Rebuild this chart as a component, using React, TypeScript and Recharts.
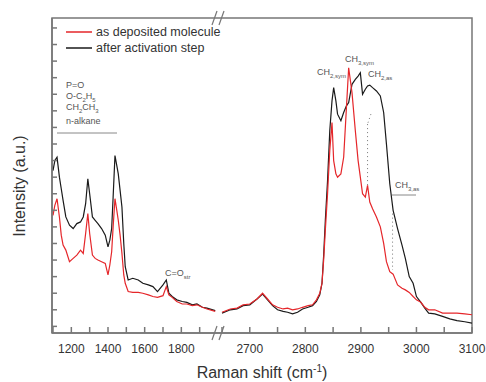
import React from "react";
import {
  ComposedChart,
  Line,
  XAxis,
  YAxis,
  ReferenceArea,
  ReferenceLine,
  Legend,
} from "recharts";

// Raman shift (cm-1) sampled on the low-wavenumber part of the broken axis
const LEFT_SHIFT = [
  1100, 1110, 1122, 1135, 1145, 1155, 1170, 1190, 1210, 1230, 1250, 1265, 1278,
  1290, 1300, 1315, 1330, 1345, 1365, 1385, 1400, 1410, 1420, 1428, 1438, 1448,
  1456, 1466, 1476, 1486, 1494, 1510, 1535, 1565, 1590, 1620, 1645, 1670, 1700,
  1718, 1732, 1750, 1775, 1805, 1830, 1860, 1885, 1915, 1940, 1985,
];
const RED_LEFT = [
  6.7, 7.3, 7.7, 6.6, 5.5, 4.9, 4.6, 3.9, 4.1, 4.3, 4.6, 4.4, 5.6, 6.8, 5.6,
  4.3, 4.1, 4.0, 3.9, 3.8, 3.1, 3.7, 4.5, 6.0, 7.7, 7.0, 6.4, 5.5, 4.4, 3.1,
  2.6, 2.1, 2.05, 2.05, 2.0, 1.9, 1.8, 1.75, 1.85, 2.4, 1.9, 1.75, 1.5, 1.35,
  1.35, 1.25, 1.3, 1.15, 1.05, 0.9,
];
const BLACK_LEFT = [
  9.4, 10.0, 10.2, 9.0, 8.3, 7.6, 6.6, 6.1, 5.9, 6.2, 6.3, 6.6, 7.4, 8.9, 8.0,
  6.6, 6.4, 6.2, 5.9, 5.5, 4.8, 5.2, 5.9, 7.8, 10.3, 9.7, 9.2, 8.2, 7.2, 5.0,
  3.6, 2.8, 2.9, 2.8, 2.6, 2.5, 2.4, 2.1, 2.5, 2.8, 2.0, 1.8, 1.6, 1.5, 1.45,
  1.3, 1.35, 1.15, 1.1, 0.95,
];

// high-wavenumber part (C-H stretching region)
const RIGHT_SHIFT = [
  2650, 2665, 2677, 2688, 2700, 2713, 2723, 2732, 2741, 2750, 2760, 2768, 2777,
  2786, 2795, 2805, 2813, 2820, 2826, 2830, 2833, 2836, 2840, 2844, 2848, 2851,
  2855, 2858, 2864, 2869, 2874, 2878, 2884, 2890, 2895, 2899, 2903, 2908, 2912,
  2916, 2921, 2928, 2935, 2941, 2946, 2952, 2958, 2966, 2974, 2980, 2987, 2994,
  3000, 3008, 3015, 3022, 3033, 3047, 3060, 3073, 3087, 3100,
];
const RED_RIGHT = [
  0.85, 1.05, 1.1, 1.3, 1.35, 1.65, 2.0, 1.65, 1.3, 1.15, 1.05, 1.1, 1.0, 1.05,
  1.15, 1.25, 1.3, 1.6, 2.0, 2.6, 4.0, 5.8, 8.0, 10.6, 12.3, 10.0, 9.2, 9.0,
  9.2, 10.2, 13.2, 15.6, 14.1, 11.8, 10.0, 9.0, 8.0, 7.8, 8.5, 7.5, 7.1, 6.6,
  6.0, 5.0, 3.9, 3.3, 3.15, 2.5, 2.3, 2.2, 2.05, 1.8, 1.6, 1.45, 1.15, 1.0, 1.0,
  0.8, 0.8, 0.8, 0.75, 0.7,
];
const BLACK_RIGHT = [
  0.8, 1.0, 1.05, 1.25, 1.3, 1.65, 1.95, 1.6, 1.25, 1.0, 0.9, 0.85, 0.75, 0.85,
  1.05, 1.15, 1.25, 1.5, 1.9, 2.6, 4.3, 6.4, 8.8, 11.8, 13.6, 14.4, 13.6, 12.8,
  12.4, 12.9, 13.3, 13.5, 14.6, 14.9, 15.1, 15.3, 14.0, 14.3, 14.5, 14.55, 14.4,
  14.2, 13.9, 12.9, 11.0, 8.6, 7.0, 5.9, 4.9, 4.1, 3.0, 2.6, 1.8, 1.45, 1.1,
  0.8, 0.75, 0.6, 0.45, 0.35, 0.28, 0.2,
];

const X_TICKS = [
  1100, 1200, 1300, 1400, 1500, 1600, 1700, 1800, 1900,
  2650, 2700, 2750, 2800, 2850, 2900, 2950, 3000, 3050, 3100,
];
const X_LABELS = [1200, 1400, 1600, 1800, 2700, 2800, 2900, 3000, 3100];
const Y_TICKS = [0, 1, 2, 3, 4, 5, 6, 7, 8, 9, 10, 11, 12, 13, 14, 15, 16, 17, 18];

const SERIES = [
  { name: "as deposited molecule", color: "#e5262a" },
  { name: "after activation step", color: "#1a1a1a" },
];

const AXIS = "#777";
const FONT = "'Liberation Sans', Arial, sans-serif";

// broken axis: 1100-2000 and 2650-3100 share one numeric axis
const toPos = (cm) =>
  cm <= 2000 ? 1 + ((cm - 1100) * 165) / 900 : 170 + ((cm - 2650) * 250) / 450;
const fromPos = (p) =>
  p <= 168 ? 1100 + ((p - 1) * 900) / 165 : 2650 + ((p - 170) * 450) / 250;

const build = (left, right) => [
  ...LEFT_SHIFT.map((cm, i) => ({ pos: toPos(cm), v: left[i] })),
  { pos: 167, v: null },
  ...RIGHT_SHIFT.map((cm, i) => ({ pos: toPos(cm), v: right[i] })),
];

const redData = build(RED_LEFT, RED_RIGHT);
const blackData = build(BLACK_LEFT, BLACK_RIGHT);

const XTick = ({ x, y, payload }) => {
  const cm = Math.round(fromPos(payload.value));
  return (
    <g>
      <line x1={x} x2={x} y1={y} y2={y - 6} stroke={AXIS} strokeWidth={1.5} />
      {X_LABELS.includes(cm) && (
        <text x={x} y={y + 20} textAnchor="middle" fontSize={12} fill="#333">
          {cm}
        </text>
      )}
    </g>
  );
};

const YTick = ({ x, y }) => (
  <line x1={x} x2={x + 5} y1={y} y2={y} stroke={AXIS} strokeWidth={1.5} />
);

const LegendBox = () => (
  <div style={{ fontFamily: FONT, fontSize: 12.5, color: "#333" }}>
    {SERIES.map((s) => (
      <div key={s.name} style={{ display: "flex", alignItems: "center", height: 16 }}>
        <svg width={30} height={16}>
          <line x1={0} x2={26} y1={8} y2={8} stroke={s.color} strokeWidth={1.5} />
        </svg>
        <span>{s.name}</span>
      </div>
    ))}
  </div>
);

const Sub = ({ x, y, main, sub }) => (
  <text x={x} y={y} fontSize={9} fill="#555">
    {main}
    <tspan dy={3} fontSize={6}>
      {sub}
    </tspan>
  </text>
);

const BreakMark = ({ y }) => (
  <g stroke={AXIS} strokeWidth={1.2}>
    <rect x={214} y={y - 2} width={10} height={4} fill="#fff" stroke="none" />
    <line x1={212} y1={y + 7} x2={217} y2={y - 7} />
    <line x1={219} y1={y + 7} x2={224} y2={y - 7} />
  </g>
);

export default function App() {
  return (
    <div style={{ position: "absolute", left: 0, top: 0 }}>
      <ComposedChart
        width={486}
        height={382}
        margin={{ top: 18, right: 14, bottom: 48, left: 51 }}
        style={{ fontFamily: FONT }}
      >
        <XAxis
          dataKey="pos"
          type="number"
          domain={[0, 420]}
          ticks={X_TICKS.map(toPos)}
          interval={0}
          tick={(p) => <XTick {...p} />}
          tickLine={false}
          tickSize={0}
          tickMargin={0}
          height={1}
          axisLine={{ stroke: AXIS, strokeWidth: 1.5 }}
          allowDataOverflow
        />
        <YAxis
          type="number"
          domain={[-0.4, 18.6]}
          ticks={Y_TICKS}
          interval={0}
          tick={(p) => <YTick {...p} />}
          tickLine={false}
          tickSize={0}
          tickMargin={0}
          width={1}
          axisLine={{ stroke: AXIS, strokeWidth: 1.5 }}
          allowDataOverflow
        />
        <ReferenceArea
          x1={0}
          x2={420}
          y1={-0.4}
          y2={18.6}
          fill="none"
          stroke={AXIS}
          strokeWidth={1.5}
          ifOverflow="visible"
        />
        <ReferenceLine
          segment={[{ x: toPos(2918), y: 12.8 }, { x: toPos(2912), y: 12.2 }]}
          stroke="#777"
          strokeDasharray="1 3"
        />
        <ReferenceLine
          segment={[{ x: toPos(2912), y: 12.2 }, { x: toPos(2912), y: 8.2 }]}
          stroke="#777"
          strokeDasharray="1 3"
        />
        <ReferenceLine
          segment={[{ x: toPos(2957), y: 6.8 }, { x: toPos(2957), y: 3.4 }]}
          stroke="#777"
          strokeDasharray="1 3"
        />
        <Line
          data={blackData}
          dataKey="v"
          name={SERIES[1].name}
          stroke={SERIES[1].color}
          strokeWidth={1.2}
          dot={false}
          type="linear"
          isAnimationActive={false}
        />
        <Line
          data={redData}
          dataKey="v"
          name={SERIES[0].name}
          stroke={SERIES[0].color}
          strokeWidth={1.2}
          dot={false}
          type="linear"
          isAnimationActive={false}
        />
        <Legend
          layout="vertical"
          align="center"
          verticalAlign="middle"
          content={() => <LegendBox />}
          wrapperStyle={{ top: 24, left: 66, width: 200 }}
        />

        {/* annotations */}
        <g fontSize={9} fill="#555">
          <text x={66} y={88}>P=O</text>
          <text x={66} y={99}>
            O-C<tspan dy={3} fontSize={6}>2</tspan>
            <tspan dy={-3}>H</tspan>
            <tspan dy={3} fontSize={6}>5</tspan>
          </text>
          <text x={66} y={110}>
            CH<tspan dy={3} fontSize={6}>2</tspan>
            <tspan dy={-3}>CH</tspan>
            <tspan dy={3} fontSize={6}>3</tspan>
          </text>
          <text x={66} y={124}>n-alkane</text>
        </g>
        <line x1={57} x2={117} y1={133} y2={133} stroke="#888" />
        <Sub x={165} y={276} main="C=O" sub="str" />
        <Sub x={317} y={75} main="CH" sub="2,sym" />
        <Sub x={345} y={62} main="CH" sub="3,sym" />
        <Sub x={368} y={77} main="CH" sub="2,as" />
        <Sub x={395} y={188} main="CH" sub="3,as" />
        <line x1={392} x2={416} y1={195} y2={195} stroke="#888" />

        <BreakMark y={18} />
        <BreakMark y={333} />

        <text
          transform="translate(25,186) rotate(-90)"
          textAnchor="middle"
          fontSize={16}
          fill="#333"
        >
          Intensity (a.u.)
        </text>
        <text x={262} y={378} textAnchor="middle" fontSize={16} fill="#333">
          Raman shift (cm<tspan dy={-6} fontSize={10}>-1</tspan>
          <tspan dy={6}>)</tspan>
        </text>
      </ComposedChart>
    </div>
  );
}
